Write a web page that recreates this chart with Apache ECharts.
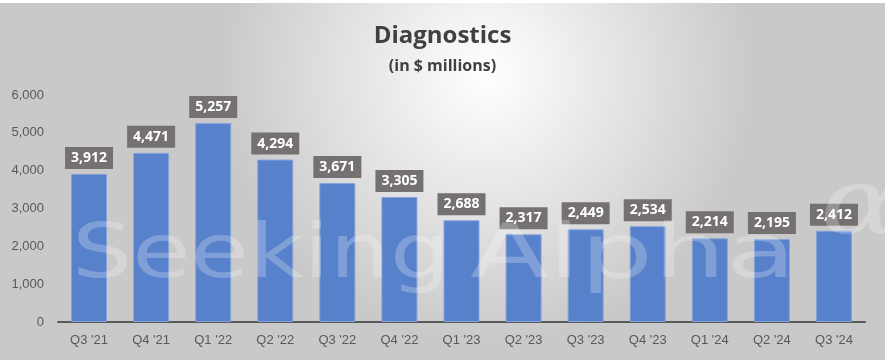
<!DOCTYPE html>
<html><head><meta charset="utf-8">
<script src="https://cdn.jsdelivr.net/npm/echarts@6/dist/echarts.min.js"></script>
<style>
html,body{margin:0;padding:0;background:#fff;}
#c{position:absolute;left:0;top:3px;width:885px;height:357px;}
</style></head>
<body><div id="c"></div>
<script>
const categories = ["Q3 '21","Q4 '21","Q1 '22","Q2 '22","Q3 '22","Q4 '22","Q1 '23","Q2 '23","Q3 '23","Q4 '23","Q1 '24","Q2 '24","Q3 '24"];
const diagnostics = [3912,4471,5257,4294,3671,3305,2688,2317,2449,2534,2214,2195,2412];
const yTicks = [0,1000,2000,3000,4000,5000,6000];

const chart = echarts.init(document.getElementById('c'), null, {renderer:'canvas'});
const fmt = v => v.toLocaleString('en-US');
const wmFill = 'rgba(255,255,255,0.24)';
const wmFont = '74px "DejaVu Sans", sans-serif';
chart.setOption({
  backgroundColor: {type:'radial', x:0.55, y:0.2, r:0.75, colorStops:[{offset:0,color:'#ffffff'},{offset:1,color:'#c9c9c9'}]},
  title: {
    text: 'Diagnostics', subtext: '(in $ millions)', left: 'center', top: 16, itemGap: 10,
    textStyle: {fontFamily:'Open Sans, Noto Sans, sans-serif', fontWeight:'bold', fontSize:24, color:'#404040'},
    subtextStyle: {fontFamily:'Open Sans, Noto Sans, sans-serif', fontWeight:'bold', fontSize:16, color:'#404040'}
  },
  grid: {left:58, right:20, top:92, bottom:38},
  xAxis: {
    type:'category', data: categories,
    axisLine:{lineStyle:{color:'#595959', width:2}},
    axisTick:{show:false},
    axisLabel:{color:'#595959', fontSize:13, fontFamily:'Liberation Sans, Arial, sans-serif', margin:12}
  },
  yAxis: {
    type:'value', min: yTicks[0], max: yTicks[yTicks.length-1], interval: 1000,
    splitLine:{show:false}, axisLine:{show:false},
    axisLabel:{color:'#595959', fontSize:13, fontFamily:'Liberation Sans, Arial, sans-serif', margin:14, formatter: v => fmt(v)}
  },
  series: [{
    type:'bar', data: diagnostics, barCategoryGap:'42%',
    itemStyle:{color:'#5881CB', borderColor:'#86a3dc', borderWidth:1},
    label:{show:true, position:'top', distance:5, formatter: p => fmt(p.value),
      backgroundColor:'#767171', color:'#ffffff', fontWeight:'bold', fontSize:14,
      fontFamily:'Open Sans, Noto Sans, sans-serif', padding:[4,6,4,6]}
  }],
  graphic: [
    {type:'text', x: 72, y: 218, scaleX: 1.28, z: 100, silent:true,
     style:{text:'Seeking', font: wmFont, fill: wmFill, verticalAlign:'top'}},
    {type:'text', x: 470, y: 218, scaleX: 1.55, z: 100, silent:true,
     style:{text:'Alpha', font: wmFont, fill: wmFill, verticalAlign:'top'}},
    {type:'text', x: 820, y: 160, scaleX: 1.3, z: 100, silent:true,
     style:{text:'α', font: 'italic 92px "DejaVu Serif", serif', fill: wmFill, verticalAlign:'top'}}
  ]
});
</script></body></html>
